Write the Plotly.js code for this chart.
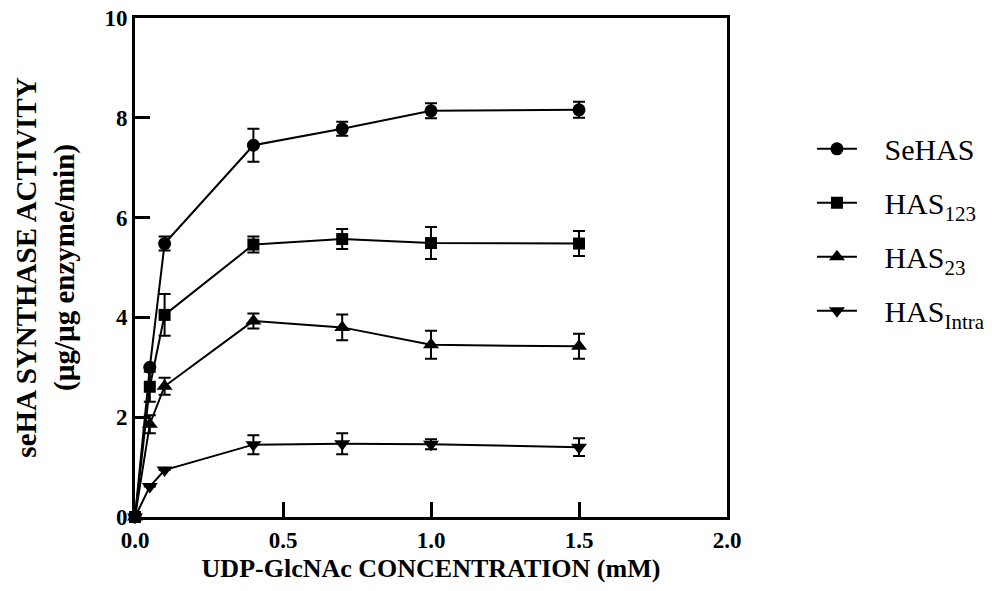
<!DOCTYPE html>
<html>
<head>
<meta charset="utf-8">
<script src="https://cdn.plot.ly/plotly-3.0.1.min.js"></script>
<style>body{margin:0;background:#fff}#chart{width:992px;height:591px}</style>
</head>
<body>
<div id="chart"></div>
<script>
const concentration = [0, 0.05, 0.1, 0.4, 0.7, 1.0, 1.5];

const seHAS      = [0, 3.0, 5.48, 7.45, 7.78, 8.14, 8.16];
const seHASErr   = [0, 0, 0.14, 0.33, 0.14, 0.15, 0.16];

const has123     = [0, 2.61, 4.05, 5.46, 5.57, 5.49, 5.48];
const has123Err  = [0, 0.3, 0.42, 0.16, 0.2, 0.32, 0.25];

const has23      = [0, 1.86, 2.62, 3.93, 3.8, 3.45, 3.42];
const has23Err   = [0, 0.18, 0.17, 0.15, 0.26, 0.28, 0.25];

const hasIntra    = [0, 0.61, 0.94, 1.45, 1.47, 1.46, 1.4];
const hasIntraErr = [0, 0, 0, 0.19, 0.21, 0.1, 0.18];

const seriesNames = ['SeHAS', 'HAS<sub>123</sub>', 'HAS<sub>23</sub>', 'HAS<sub>Intra</sub>'];
const xTickVals = [0, 0.5, 1.0, 1.5, 2.0];
const xTickText = ['0.0', '0.5', '1.0', '1.5', '2.0'];
const yTickVals = [0, 2, 4, 6, 8, 10];

const series = [
  {y: seHAS, e: seHASErr, sym: 'circle', size: 13},
  {y: has123, e: has123Err, sym: 'square', size: 12},
  {y: has23, e: has23Err, sym: 'triangle-up', size: 14},
  {y: hasIntra, e: hasIntraErr, sym: 'triangle-down', size: 14}
];

const pad = '\u00a0\u00a0\u00a0';

const traces = series.map((s, i) => ({
  x: concentration,
  y: s.y,
  name: pad + seriesNames[i],
  legendgroup: 'g' + i,
  type: 'scatter',
  mode: 'lines+markers',
  line: {color: '#000', width: 2},
  marker: {symbol: s.sym, size: s.size, color: '#000'},
  error_y: {type: 'data', array: s.e, visible: true, color: '#000', thickness: 2, width: 6},
  cliponaxis: false
}));

const serif = '"Liberation Serif", "Times New Roman", Times, serif';

const layout = {
  width: 992, height: 591,
  margin: {l: 135, r: 265, t: 18, b: 74, autoexpand: false},
  paper_bgcolor: '#fff', plot_bgcolor: '#fff',
  font: {family: serif, color: '#000'},
  showlegend: true,
  legend: {
    x: 1.1435, xanchor: 'left', y: 0.79, yanchor: 'top',
    font: {family: serif, size: 30, color: '#000'},
    itemwidth: 40,
    tracegroupgap: 12,
    bgcolor: 'rgba(0,0,0,0)'
  },
  xaxis: {
    range: [0, 2.0],
    tickvals: xTickVals, ticktext: xTickText,
    ticks: 'inside', ticklen: 15, tickwidth: 3, tickcolor: '#000',
    showline: true, linewidth: 3, linecolor: '#000', mirror: true,
    showgrid: false, zeroline: false,
    tickfont: {family: serif, size: 23, color: '#000', weight: 'bold'},
    title: {text: '<b>UDP-GlcNAc CONCENTRATION (mM)</b>', font: {family: serif, size: 26, color: '#000'}, standoff: 8}
  },
  yaxis: {
    range: [0, 10],
    tickvals: yTickVals,
    ticks: 'inside', ticklen: 15, tickwidth: 3, tickcolor: '#000',
    showline: true, linewidth: 3, linecolor: '#000', mirror: true,
    showgrid: false, zeroline: false,
    tickfont: {family: serif, size: 23, color: '#000', weight: 'bold'},
    title: {text: '<b>seHA SYNTHASE ACTIVITY<br>(µg/µg enzyme/min)</b>', font: {family: serif, size: 29, color: '#000'}, standoff: 22}
  }
};

Plotly.newPlot('chart', traces, layout, {displayModeBar: false, staticPlot: true});
</script>
</body>
</html>
